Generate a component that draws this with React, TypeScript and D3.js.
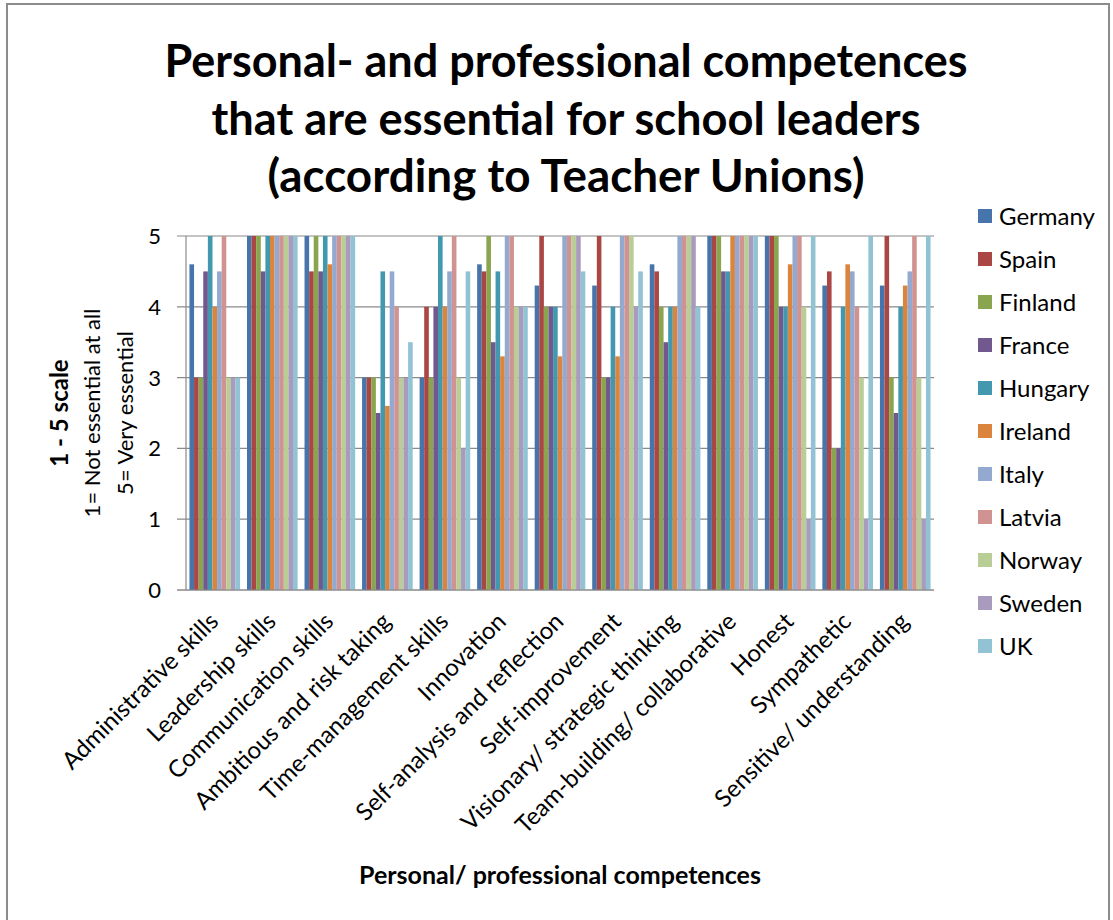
import React from "react";
import * as d3 from "d3";

const categories = [
  "Administrative skills",
  "Leadership skills",
  "Communication skills",
  "Ambitious and risk taking",
  "Time-management skills",
  "Innovation",
  "Self-analysis and reflection",
  "Self-improvement",
  "Visionary/ strategic thinking",
  "Team-building/ collaborative",
  "Honest",
  "Sympathetic",
  "Sensitive/ understanding",
];

const germany = [4.6, 5, 5, 3, 3, 4.6, 4.3, 4.3, 4.6, 5, 5, 4.3, 4.3];
const spain = [3, 5, 4.5, 3, 4, 4.5, 5, 5, 4.5, 5, 5, 4.5, 5];
const finland = [3, 5, 5, 3, 3, 5, 4, 3, 4, 5, 5, 2, 3];
const france = [4.5, 4.5, 4.5, 2.5, 4, 3.5, 4, 3, 3.5, 4.5, 4, 2, 2.5];
const hungary = [5, 5, 5, 4.5, 5, 4.5, 4, 4, 4, 4.5, 4, 4, 4];
const ireland = [4, 5, 4.6, 2.6, 4, 3.3, 3.3, 3.3, 4, 5, 4.6, 4.6, 4.3];
const italy = [4.5, 5, 5, 4.5, 4.5, 5, 5, 5, 5, 5, 5, 4.5, 4.5];
const latvia = [5, 5, 5, 4, 5, 5, 5, 5, 5, 5, 5, 4, 5];
const norway = [3, 5, 5, 3, 3, 4, 5, 5, 5, 5, 4, 3, 3];
const sweden = [3, 5, 5, 3, 2, 4, 5, 4, 5, 5, 1, 1, 1];
const uk = [3, 5, 5, 3.5, 4.5, 4, 4.5, 4.5, 4, 5, 5, 5, 5];

const seriesNames = ["Germany", "Spain", "Finland", "France", "Hungary", "Ireland", "Italy", "Latvia", "Norway", "Sweden", "UK"];
const seriesValues = [germany, spain, finland, france, hungary, ireland, italy, latvia, norway, sweden, uk];
const seriesColors = ["#4674AB", "#AA4643", "#89A54E", "#71588F", "#4198AF", "#DB843D", "#93A9CF", "#D19392", "#B9CD96", "#A99BBD", "#92C3D4"];
const yTicks = [0, 1, 2, 3, 4, 5];

const titleLines = [
  "Personal- and professional competences",
  "that are essential for school leaders",
  "(according to Teacher Unions)",
];

const FONT = "Lato, 'Open Sans', sans-serif";

export default function App() {
  const left = 186;
  const right = 934;
  const top = 236;
  const bottom = 590;

  const x0 = d3.scaleBand<string>().domain(categories).range([left, right]).padding(0);
  const x1 = d3
    .scaleBand<string>()
    .domain(seriesNames)
    .range([0, x0.bandwidth()])
    .paddingInner(0)
    .paddingOuter(0.75);
  const y = d3.scaleLinear().domain([0, 5]).range([bottom, top]);

  const titleWidths = [803, 709, 597];
  const titleBaselines = [77, 135, 192];

  return (
    <svg
      width={1113}
      height={920}
      style={{ position: "absolute", left: 0, top: 0, background: "#fff" }}
      fontFamily={FONT}
    >
      <rect x={0} y={0} width={1113} height={920} fill="#fff" />
      <rect x={7} y={4} width={1102} height={940} fill="none" stroke="#8c8c8c" strokeWidth={2} />

      {titleLines.map((t, i) => (
        <text
          key={t}
          x={566}
          y={titleBaselines[i]}
          textAnchor="middle"
          fontSize={46}
          fontWeight="bold"
          fill="#000"
          textLength={titleWidths[i]}
          lengthAdjust="spacingAndGlyphs"
        >
          {t}
        </text>
      ))}

      {/* gridlines */}
      {yTicks.map((t) => (
        <g key={t}>
          <line x1={left - 9} x2={right} y1={y(t)} y2={y(t)} stroke="#8a8a8a" strokeWidth={1.2} />
          <text x={161} y={y(t)} dy="0.36em" textAnchor="end" fontSize={22} fill="#000">
            {t}
          </text>
        </g>
      ))}
      <line x1={left} x2={left} y1={top} y2={bottom} stroke="#8a8a8a" strokeWidth={1.2} />

      {/* bars */}
      {seriesNames.map((s, si) => (
        <g key={s} fill={seriesColors[si]}>
          {categories.map((c, ci) => {
            const v = seriesValues[si][ci];
            return (
              <rect
                key={c}
                x={(x0(c) as number) + (x1(s) as number)}
                y={y(v)}
                width={x1.bandwidth()}
                height={y(0) - y(v)}
              />
            );
          })}
        </g>
      ))}
      <line x1={left - 9} x2={right} y1={bottom} y2={bottom} stroke="#8a8a8a" strokeWidth={1.2} />

      {/* x labels */}
      {categories.map((c) => {
        const cx = (x0(c) as number) + x0.bandwidth() / 2 + 5;
        const cy = 623;
        return (
          <text
            key={c}
            x={cx}
            y={cy}
            textAnchor="end"
            fontSize={24}
            fill="#000"
            transform={`rotate(-45 ${cx} ${cy})`}
          >
            {c}
          </text>
        );
      })}

      {/* y axis title */}
      <g transform={`translate(0, ${(top + bottom) / 2}) `}>
        <text transform="translate(68,0) rotate(-90)" textAnchor="middle" fontSize={24} fontWeight="bold" fill="#000">
          1 - 5 scale
        </text>
        <text transform="translate(100,0) rotate(-90)" textAnchor="middle" fontSize={22} fill="#000">
          1= Not essential at all
        </text>
        <text transform="translate(133,0) rotate(-90)" textAnchor="middle" fontSize={22} fill="#000">
          5= Very essential
        </text>
      </g>

      {/* x axis title */}
      <text x={560} y={884} textAnchor="middle" fontSize={25} fontWeight="bold" fill="#000">
        Personal/ professional competences
      </text>

      {/* legend */}
      {seriesNames.map((s, i) => {
        const cy = 216 + i * 43;
        return (
          <g key={s}>
            <rect x={978} y={cy - 7} width={14} height={14} fill={seriesColors[i]} />
            <text x={999} y={cy} dy="0.36em" fontSize={24} fill="#000">
              {s}
            </text>
          </g>
        );
      })}
    </svg>
  );
}
